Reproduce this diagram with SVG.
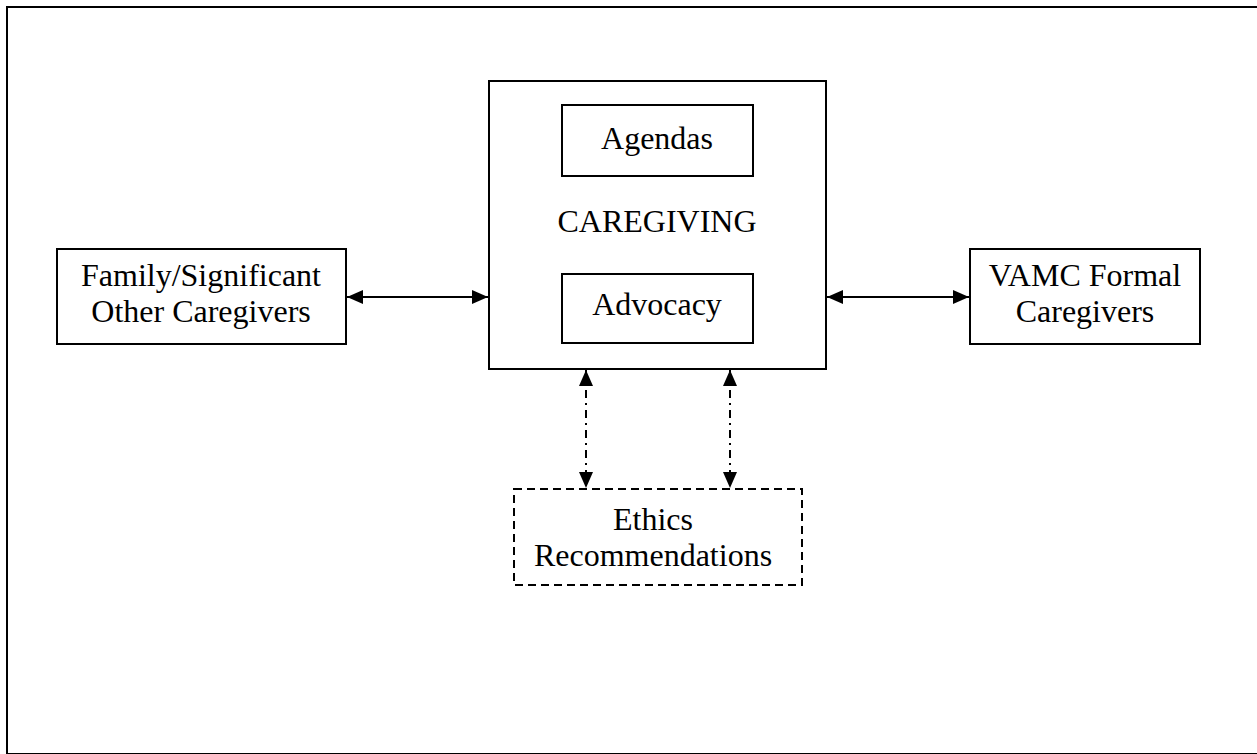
<svg xmlns="http://www.w3.org/2000/svg" width="1257" height="754" viewBox="0 0 1257 754">
<style>
.box{fill:#fff;stroke:#000;stroke-width:2}
.dbox{fill:#fff;stroke:#000;stroke-width:2;stroke-dasharray:8 5}
.t{font-family:"Liberation Serif","Times New Roman",serif;font-size:32px;fill:#000;text-anchor:middle}
.c{stroke:#000;stroke-width:2;fill:none}
.dc{stroke:#000;stroke-width:2;fill:none;stroke-dasharray:8 5 2 5}
</style>
<defs>
<marker id="ah" viewBox="0 0 16 14" refX="16" refY="7" markerWidth="16" markerHeight="14" markerUnits="userSpaceOnUse" orient="auto-start-reverse">
<path d="M0,0 L16,7 L0,14 Z" fill="#000"/>
</marker>
</defs>
<rect x="7" y="7" width="1252" height="747" fill="#fff" stroke="#000" stroke-width="2"/>
<g id="caregiving">
<rect class="box" x="489" y="81" width="337" height="288"/>
<text class="t" x="657" y="232">CAREGIVING</text>
</g>
<g id="agendas">
<rect class="box" x="562" y="105" width="191" height="71"/>
<text class="t" x="657" y="149">Agendas</text>
</g>
<g id="advocacy">
<rect class="box" x="562" y="274" width="191" height="69"/>
<text class="t" x="657" y="315">Advocacy</text>
</g>
<g id="family">
<rect class="box" x="57" y="249" width="289" height="95"/>
<text class="t" x="201" y="286">Family/Significant</text>
<text class="t" x="201" y="322">Other Caregivers</text>
</g>
<g id="vamc">
<rect class="box" x="970" y="249" width="230" height="95"/>
<text class="t" x="1085" y="286">VAMC Formal</text>
<text class="t" x="1085" y="322">Caregivers</text>
</g>
<g id="ethics">
<rect class="dbox" x="514" y="489" width="288" height="96"/>
<text class="t" x="653" y="530">Ethics</text>
<text class="t" x="653" y="566">Recommendations</text>
</g>
<g id="connectors">
<line class="c" x1="347" y1="297" x2="488" y2="297" marker-start="url(#ah)" marker-end="url(#ah)"/>
<line class="c" x1="827" y1="297" x2="969" y2="297" marker-start="url(#ah)" marker-end="url(#ah)"/>
<line class="dc" x1="586" y1="370" x2="586" y2="488" marker-start="url(#ah)" marker-end="url(#ah)"/>
<line class="dc" x1="730" y1="370" x2="730" y2="488" marker-start="url(#ah)" marker-end="url(#ah)"/>
</g>
</svg>
